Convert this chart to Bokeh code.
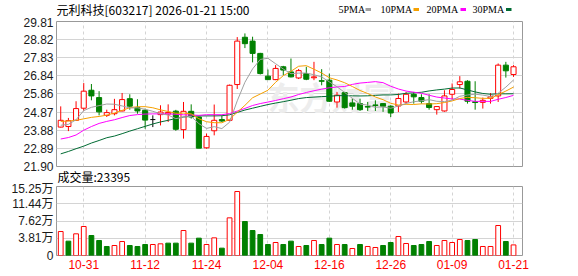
import numpy as np
from bokeh.plotting import figure
from bokeh.layouts import column
from bokeh.models import Range1d, FixedTicker, NumeralTickFormatter
from bokeh.core.properties import value
from bokeh.embed import file_html
from bokeh.resources import INLINE

# ---------------- data ----------------
dates = ["10-28", "10-29", "10-30", "10-31",
         "11-03", "11-04", "11-05", "11-06", "11-07", "11-10", "11-11", "11-12", "11-13", "11-14",
         "11-17", "11-18", "11-19", "11-20", "11-21", "11-24", "11-25", "11-26", "11-27", "11-28",
         "12-01", "12-02", "12-03", "12-04", "12-05", "12-08", "12-09", "12-10", "12-11", "12-12",
         "12-15", "12-16", "12-17", "12-18", "12-19", "12-22", "12-23", "12-24", "12-25", "12-26",
         "12-29", "12-30", "12-31",
         "01-05", "01-06", "01-07", "01-08", "01-09", "01-12", "01-13", "01-14", "01-15", "01-16",
         "01-19", "01-20", "01-21"]

opens = [24.05, 24.08, 24.42, 25.08, 26.06, 25.66, 24.69, 24.78, 24.93, 25.60,
         25.11, 24.97, 24.46, 24.73, 24.76, 24.92, 23.91, 24.91, 24.60, 22.92,
         23.85, 24.46, 24.42, 26.37, 28.95, 28.74, 28.07, 26.83, 26.64, 27.34,
         27.06, 26.73, 26.97, 26.74, 26.58, 26.61, 25.42, 25.93, 25.37, 25.33,
         25.17, 25.26, 25.33, 25.19, 25.20, 25.42, 25.84, 25.66, 25.33, 25.00,
         24.93, 25.84, 26.37, 26.55, 25.43, 25.40, 25.62, 25.75, 27.43, 26.92]
highs = [25.18, 24.55, 25.46, 26.45, 26.40, 26.01, 25.00, 25.59, 25.91, 25.84,
         25.57, 25.06, 24.69, 25.24, 25.29, 24.99, 25.42, 25.29, 24.62, 23.70,
         25.28, 24.69, 26.37, 28.96, 29.16, 28.98, 28.10, 27.19, 27.43, 27.39,
         27.79, 27.22, 27.34, 27.61, 27.21, 26.97, 25.97, 25.97, 25.60, 25.60,
         25.42, 25.51, 25.35, 25.24, 25.88, 25.97, 25.97, 25.84, 25.84, 25.18,
         26.06, 26.43, 26.83, 26.61, 26.55, 25.66, 25.91, 27.52, 27.61, 27.43]
lows = [24.03, 23.83, 24.40, 24.95, 25.51, 24.69, 24.60, 24.69, 24.91, 25.00,
        24.78, 23.96, 24.05, 24.14, 24.33, 23.85, 23.42, 24.51, 22.90, 22.87,
        23.60, 24.33, 24.40, 26.13, 28.36, 27.58, 26.92, 26.64, 26.61, 26.88,
        26.76, 26.67, 26.61, 26.61, 26.33, 25.42, 25.11, 25.06, 25.00, 24.93,
        24.93, 24.93, 24.88, 24.60, 24.87, 25.33, 25.33, 25.33, 25.00, 24.73,
        24.89, 25.55, 26.15, 25.33, 25.00, 25.06, 25.33, 25.42, 26.75, 26.79]
closes = [24.42, 24.40, 25.06, 26.01, 25.75, 24.88, 24.84, 25.00, 25.55, 25.19,
          24.93, 24.43, 24.46, 24.87, 24.85, 23.93, 24.91, 24.60, 22.90, 23.54,
          24.42, 24.38, 26.33, 28.74, 28.60, 28.07, 26.97, 26.64, 27.25, 27.16,
          26.79, 27.13, 26.66, 26.79, 26.55, 25.46, 25.79, 25.11, 25.19, 25.00,
          25.14, 25.23, 25.19, 24.82, 25.61, 25.84, 25.70, 25.46, 25.12, 25.17,
          25.75, 26.10, 26.52, 25.46, 25.39, 25.51, 25.70, 27.43, 27.12, 27.34]
# volume in 万 (10k lots)
volumes = [5.30, 3.17, 4.79, 6.41, 4.42, 3.31, 1.99, 2.21, 3.09, 2.21,
           1.99, 2.43, 2.43, 2.58, 2.73, 2.73, 5.52, 2.73, 3.83, 2.43,
           3.90, 1.62, 8.32, 14.14, 7.51, 5.52, 4.64, 2.43, 2.87, 2.43,
           3.17, 1.99, 2.21, 3.31, 2.43, 3.83, 2.43, 2.43, 1.55, 2.43,
           1.99, 1.77, 2.21, 2.87, 4.20, 2.65, 2.21, 2.43, 3.09, 2.21,
           3.31, 2.87, 3.53, 3.31, 3.53, 1.99, 1.99, 6.63, 3.09, 2.3395]

# moving-average values before enough history is visible
ma5_head = [24.15, 24.20, 24.45, 24.95]
ma10_head = [24.36, 24.38, 24.42, 24.50, 24.58, 24.63, 24.70, 24.82, 24.96]
ma20_head = [23.40, 23.48, 23.62, 23.88, 24.08, 24.25, 24.36, 24.45, 24.57, 24.68,
             24.73, 24.76, 24.77, 24.77, 24.77, 24.75, 24.72, 24.71, 24.69]
ma30_head = [22.59, 22.72, 22.87, 23.01, 23.18, 23.32, 23.47, 23.56, 23.69, 23.83,
             23.96, 24.09, 24.22, 24.33, 24.42, 24.52, 24.60, 24.64, 24.66, 24.66,
             24.66, 24.67, 24.72, 24.85, 24.98, 25.08, 25.18, 25.28, 25.36]

price_ticks = [21.90, 22.89, 23.88, 24.87, 25.86, 26.84, 27.83, 28.82, 29.81]
vol_ticks = [0, 3.81, 7.62, 11.44, 15.25]
vol_tick_labels = ["0", "3.81万", "7.62万", "11.44万", "15.25万"]
x_tick_idx = list(range(3, 60, 8))

title_text = "元利科技[603217] 2026-01-21 15:00"
ma_names = ["5PMA", "10PMA", "20PMA", "30PMA"]

# ---------------- derived ----------------
n = len(dates)
idx = np.arange(n)
o = np.array(opens); h = np.array(highs); l = np.array(lows); c = np.array(closes)
vol = np.array(volumes)


def ma(period, head):
    vals = list(head)
    for i in range(period - 1, n):
        vals.append(c[i - period + 1:i + 1].mean())
    return vals


ma_series = [ma(5, ma5_head), ma(10, ma10_head), ma(20, ma20_head), ma(30, ma30_head)]

RED = "#ff0000"
GREEN = "#008000"
MA_COLORS = ["#a0a0a0", "#f5a000", "#ff00ff", "#006b33"]
GRID = "#d4d4d4"
BORDER = "#999999"
LABEL = "#1a1a1a"
CJK = "Noto Sans CJK SC"

W = 578
FL, FR = 56, 522
X0, X1 = -0.55, 60.17
x_range = Range1d(X0, X1)
YLO, YHI = price_ticks[0], price_ticks[-1]


def header(height, **kw):
    # pixel-coordinate strip (frame aligned with the chart frames: 56..522)
    f = figure(width=W, height=height, x_range=Range1d(FL, FR), y_range=Range1d(height, 0),
               toolbar_location=None, output_backend="svg", x_axis_location=None, y_axis_location=None,
               min_border_left=FL, min_border_right=W - FR, min_border_top=0, min_border_bottom=0, **kw)
    f.outline_line_color = None
    f.grid.visible = False
    return f


# ---------------- header: title + MA legend ----------------
H1 = 17
hd = header(H1)
hd.background_fill_color = "white"
hd.border_fill_color = "white"
hd.text(x=[56], y=[9], text=[title_text], text_font=value(CJK), text_font_size="12px",
        text_color="#000000", text_align="left", text_baseline="middle")
leg_text_x = [338, 380, 426, 472]
leg_box_x = [365, 413, 460, 505.5]
hd.text(x=leg_text_x, y=[9] * 4, text=ma_names, text_font=value("Liberation Serif"), text_font_size="10px",
        text_color="#000000", text_align="left", text_baseline="middle")
hd.quad(left=leg_box_x, right=[b + 5.5 for b in leg_box_x], top=[7.5] * 4, bottom=[10.5] * 4,
        fill_color=MA_COLORS, line_color=None)

# ---------------- main (price) ----------------
p = figure(width=W, height=157, x_range=x_range, y_range=Range1d(YLO, YHI),
           toolbar_location=None, output_backend="svg",
           min_border_left=FL, min_border_right=W - FR, min_border_top=4, min_border_bottom=8)
p.background_fill_color = "white"
p.border_fill_color = None
p.outline_line_color = BORDER
p.outline_line_width = 1
p.xaxis.visible = False
p.xgrid.ticker = FixedTicker(ticks=x_tick_idx)
p.xgrid.grid_line_color = GRID
p.xgrid.grid_line_dash = "3 3"
p.ygrid.ticker = FixedTicker(ticks=price_ticks)
p.ygrid.grid_line_color = GRID
p.yaxis.ticker = FixedTicker(ticks=price_ticks)
p.yaxis.formatter = NumeralTickFormatter(format="0.00")
p.yaxis.axis_line_color = None
p.yaxis.major_tick_line_color = None
p.yaxis.minor_tick_line_color = None
p.yaxis.major_tick_out = 0
p.yaxis.major_tick_in = 0
p.yaxis.major_label_standoff = 3
p.yaxis.major_label_text_font = "Liberation Sans"
p.yaxis.major_label_text_font_size = "12px"
p.yaxis.major_label_text_color = LABEL

# faint watermark
p.text(x=[X0 + (331 - FL) * (X1 - X0) / (FR - FL)], y=[YHI - (95 - 21) * (YHI - YLO) / 145], text=["东方财富"],
       text_font=value(CJK), text_font_size="32px", text_font_style="bold", text_color="#ededed",
       text_align="center", text_baseline="middle")

up = c > o
down = c < o
flat = c == o
wick_col = np.where(up, RED, np.where(down, GREEN, "#000000"))
p.segment(x0=idx, y0=l, x1=idx, y1=h, line_color=list(wick_col), line_width=1)
BW = 0.66
p.vbar(x=idx[up], width=BW, bottom=o[up], top=c[up], fill_color="white", line_color=RED, line_width=1)
p.vbar(x=idx[down], width=BW, bottom=c[down], top=o[down], fill_color=GREEN, line_color=GREEN, line_width=1)
p.segment(x0=idx[flat] - BW / 2, y0=o[flat], x1=idx[flat] + BW / 2, y1=o[flat], line_color="#000000", line_width=1)

for series, col in zip(ma_series[::-1], MA_COLORS[::-1]):
    p.line(idx, series, line_color=col, line_width=1)

# ---------------- header: volume caption (transparent strip overlapping its neighbours) ----------------
H2 = 18
hv = header(H2, margin=(-7, 0, -4, 0))
hv.background_fill_color = None
hv.border_fill_color = None
hv.text(x=[57], y=[9.2], text=[f"成交量:{volumes[-1] * 10000:.0f}"], text_font=value(CJK),
        text_font_size="12px", text_color="#000000", text_align="left", text_baseline="middle")

# ---------------- volume ----------------
VH = 95
q = figure(width=W, height=VH, x_range=x_range, y_range=Range1d(vol_ticks[0], vol_ticks[-1]),
           toolbar_location=None, output_backend="svg",
           min_border_left=FL, min_border_right=W - FR, min_border_top=5, min_border_bottom=21)
q.background_fill_color = "white"
q.border_fill_color = None
q.outline_line_color = BORDER
q.xgrid.ticker = FixedTicker(ticks=x_tick_idx)
q.xgrid.grid_line_color = GRID
q.xgrid.grid_line_dash = "3 3"
q.ygrid.ticker = FixedTicker(ticks=vol_ticks)
q.ygrid.grid_line_color = GRID
q.yaxis.ticker = FixedTicker(ticks=vol_ticks)
q.yaxis.major_label_overrides = {t: s for t, s in zip(vol_ticks, vol_tick_labels)}
q.xaxis.ticker = FixedTicker(ticks=x_tick_idx)
q.xaxis.major_label_overrides = {i: dates[i] for i in x_tick_idx}
for ax in (q.xaxis, q.yaxis):
    ax.axis_line_color = None
    ax.major_tick_line_color = None
    ax.minor_tick_line_color = None
    ax.major_tick_out = 0
    ax.major_tick_in = 0
    ax.major_label_text_font_size = "12px"
q.yaxis.major_label_standoff = 3
q.yaxis.major_label_text_font = "Liberation Sans, Noto Sans CJK SC"
q.yaxis.major_label_text_color = LABEL
q.xaxis.major_label_standoff = 4
q.xaxis.major_label_text_font = "Liberation Sans"
q.xaxis.major_label_text_color = RED

prev = np.concatenate([[o[0]], c[:-1]])
vup = c >= prev
VW = 0.62
q.vbar(x=idx[vup], width=VW, bottom=0, top=vol[vup], fill_color="white", line_color=RED, line_width=1)
q.vbar(x=idx[~vup], width=VW, bottom=0, top=vol[~vup], fill_color=GREEN, line_color=GREEN, line_width=1)

layout = column(hd, p, hv, q, spacing=0, styles={"background-color": "white"})
open("out.html", "w").write(file_html(layout, INLINE))
